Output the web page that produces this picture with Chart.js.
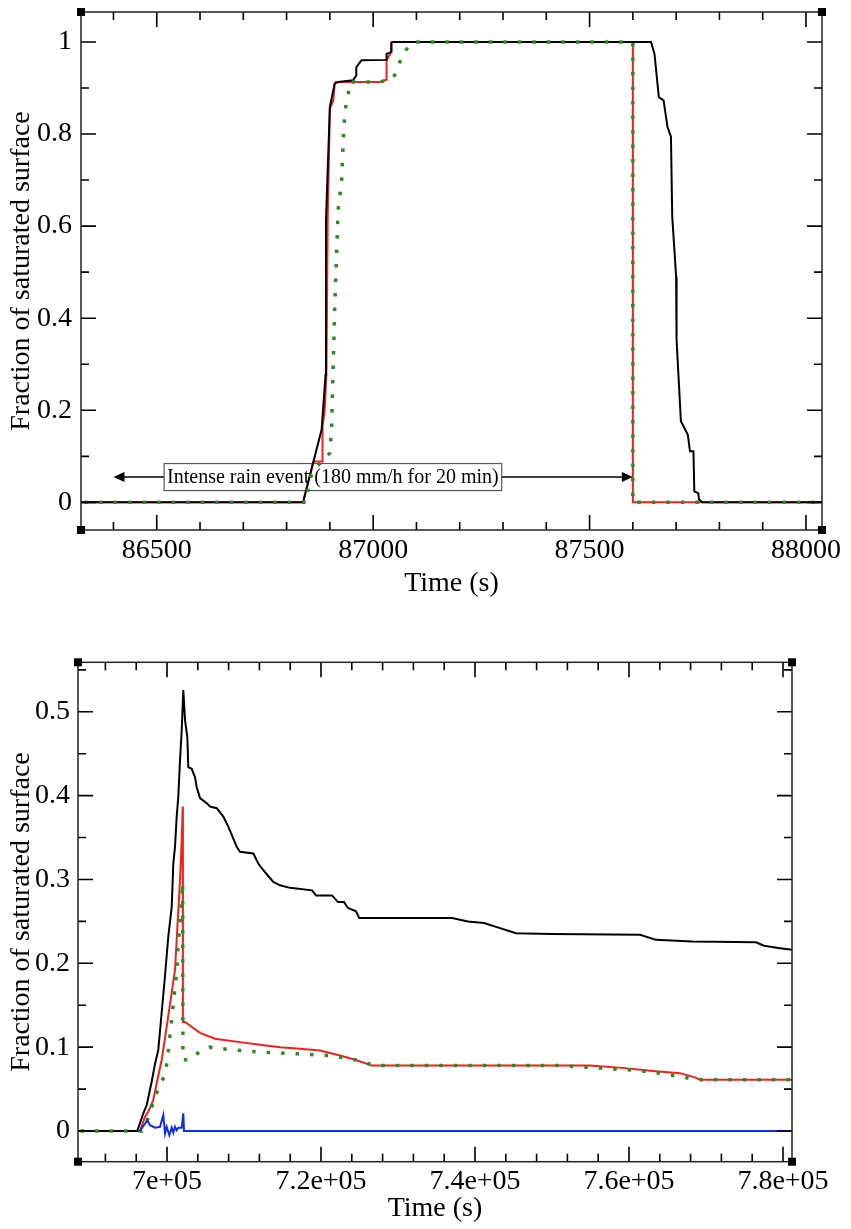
<!DOCTYPE html>
<html><head><meta charset="utf-8">
<script src="https://cdn.jsdelivr.net/npm/chart.js@4.4.1/dist/chart.umd.min.js"></script>
<style>
html,body{margin:0;padding:0;background:#fff;width:851px;height:1229px;overflow:hidden;position:relative}
canvas{position:absolute;left:0}
#c1{top:0}
#c2{top:620px}
</style></head>
<body>
<canvas id="c1" width="851" height="600" style="width:851px;height:600px"></canvas>
<canvas id="c2" width="851" height="605" style="width:851px;height:605px"></canvas>
<script>
// ---------- Top chart data (time in s, fraction of saturated surface) ----------
const topBlackT = [86300, 86838, 86861, 86881, 86890, 86891, 86900, 86911, 86919, 86954, 86961, 86961, 86973, 87031, 87031, 87042, 87042, 87045, 87642, 87650, 87660, 87671, 87680, 87688, 87691, 87700, 87701, 87711, 87727, 87732, 87740, 87742, 87751, 87753, 87761, 88100];
const topBlackV = [0, 0, 0.085, 0.158, 0.277, 0.613, 0.859, 0.909, 0.913, 0.917, 0.927, 0.945, 0.96, 0.961, 0.974, 0.978, 0.998, 1, 1, 0.974, 0.88, 0.873, 0.815, 0.794, 0.62, 0.49, 0.353, 0.176, 0.147, 0.111, 0.111, 0.024, 0.02, 0.006, 0, 0];

const topRedT = [86300, 86838, 86861, 86865, 86883, 86883, 86888, 86892, 86895, 86900, 86908, 86911, 86913, 87015, 87030, 87031, 87042, 87042, 87045, 87600, 87600, 88100];
const topRedV = [0, 0, 0.085, 0.089, 0.089, 0.165, 0.2, 0.277, 0.62, 0.855, 0.873, 0.909, 0.913, 0.913, 0.918, 0.961, 0.978, 0.998, 1, 1, 0, 0];

const topGreenT = [86300, 86845, 86852, 86862, 86900, 86904, 86911, 86919, 86927, 86931, 86935, 86942, 86946, 87015, 87046, 87057, 87069, 87087, 87095, 87600, 87600, 88100];
const topGreenV = [0, 0, 0.046, 0.07, 0.107, 0.165, 0.418, 0.635, 0.696, 0.79, 0.851, 0.884, 0.913, 0.913, 0.92, 0.945, 0.974, 0.996, 1, 1, 0, 0];

// rain-event annotation (s)
const rainStart = 86400;
const rainEnd = 87600;
const rainArrowLevel = 0.055;
const rainLabelCenter = 86907;
const rainLabel = 'Intense rain event (180 mm/h for 20 min)';

// ---------- Bottom chart data ----------
const botBlackT = [685000, 696143, 696922, 697364, 698013, 698442, 698870, 699740, 700169, 700610, 700818, 701039, 701260, 701468, 701688, 701909, 702117, 702338, 702636, 702766, 703208, 703636, 703857, 704286, 705156, 705584, 706455, 707312, 707961, 709052, 709481, 711208, 711857, 712506, 713805, 714675, 715974, 718831, 719351, 721429, 722208, 722987, 723506, 724545, 724961, 737013, 739091, 741169, 743247, 745325, 750000, 761429, 763506, 768182, 776494, 777532, 779610, 782000];
const botBlackV = [0, 0, 0.021, 0.031, 0.059, 0.08, 0.097, 0.185, 0.232, 0.267, 0.319, 0.339, 0.375, 0.399, 0.442, 0.478, 0.526, 0.49, 0.47, 0.434, 0.432, 0.422, 0.41, 0.397, 0.391, 0.387, 0.385, 0.375, 0.363, 0.339, 0.333, 0.331, 0.319, 0.311, 0.297, 0.293, 0.29, 0.287, 0.281, 0.281, 0.273, 0.273, 0.266, 0.262, 0.254, 0.254, 0.25, 0.248, 0.242, 0.236, 0.235, 0.234, 0.228, 0.226, 0.225, 0.221, 0.218, 0.215];

const botRedT = [685000, 696494, 697143, 697571, 698221, 698662, 699312, 699519, 701039, 701688, 701909, 702039, 702065, 702338, 704286, 706234, 709481, 712078, 714675, 717273, 719870, 721169, 722468, 724416, 726623, 754935, 759481, 762727, 766623, 768571, 769221, 782000];
const botRedV = [0, 0, 0.017, 0.023, 0.037, 0.057, 0.085, 0.097, 0.192, 0.299, 0.347, 0.387, 0.13, 0.13, 0.117, 0.11, 0.106, 0.103, 0.1, 0.098, 0.096, 0.093, 0.09, 0.085, 0.078, 0.078, 0.075, 0.072, 0.069, 0.064, 0.061, 0.061];

const botGreenT = [685000, 696753, 697532, 698442, 699091, 699740, 699961, 700169, 701260, 701468, 701688, 701909, 702039, 702065, 702987, 704286, 705584, 708182, 712078, 717273, 721169, 724416, 727013, 751039, 756234, 761429, 764675, 767273, 768571, 782000];
const botGreenV = [0, 0, 0.015, 0.041, 0.055, 0.067, 0.08, 0.095, 0.19, 0.225, 0.248, 0.279, 0.296, 0.085, 0.085, 0.095, 0.1, 0.097, 0.094, 0.092, 0.09, 0.085, 0.078, 0.078, 0.075, 0.072, 0.068, 0.064, 0.061, 0.061];

const botBlueT = [696494, 697442, 697792, 698442, 699091, 699519, 699740, 699961, 700299, 700610, 700818, 701039, 701260, 701468, 701909, 702117, 702208, 782000];
const botBlueV = [0, 0.013, 0.007, 0.004, 0.005, 0.019, -0.003, 0.005, -0.005, 0.004, -0.002, 0.005, 0.001, 0.004, 0.004, 0.021, 0, 0];

// axis ranges / tick steps
const topXRange = [86325, 88037], topXMinor = 100, topXMajor = 500;
const topYRange = [-0.06, 1.065], topYMinor = 0.1, topYMajor = 0.2;
const botXRange = [688440, 781170], botXMinor = 4000, botXMajor = 20000;
const botYRange = [-0.0366, 0.559], botYMinor = 0.05, botYMajor = 0.1;

const FONT = "'Liberation Serif','Times New Roman',serif";
const zip = (t, v) => t.map((x, i) => ({x, y: v[i]}));
const isMaj = (v, s) => Math.abs(v / s - Math.round(v / s)) < 1e-6;
const fmtNum = v => String(Math.round(v * 1000) / 1000);
const fmtSci = v => {
  const e = Math.floor(Math.log10(Math.abs(v)));
  const m = +(v / Math.pow(10, e)).toFixed(4);
  return m + 'e+' + String(e).padStart(2, '0');
};

const GREEN = '#2a8c22', RED = '#f0201c', BLUE = '#1030e0';

function lineDs(data, color, width, order, dashed) {
  return {
    data, borderColor: color, backgroundColor: color, borderWidth: width,
    pointRadius: 0, tension: 0, fill: false, order,
    borderDash: dashed ? [3.5, 11] : [], borderCapStyle: 'butt', borderJoinStyle: 'miter'
  };
}

const framePlugin = {
  id: 'frame',
  afterDraw(chart, args, o) {
    const {ctx, chartArea: a, scales: {x, y}} = chart;
    ctx.save();
    ctx.strokeStyle = '#000';
    ctx.lineWidth = 1.6;
    ctx.beginPath();
    x.ticks.forEach(t => {
      const p = x.getPixelForValue(t.value);
      const L = isMaj(t.value, o.xMajor) ? 15 : 8;
      ctx.moveTo(p, a.bottom); ctx.lineTo(p, a.bottom - L);
      ctx.moveTo(p, a.top); ctx.lineTo(p, a.top + L);
    });
    y.ticks.forEach(t => {
      const p = y.getPixelForValue(t.value);
      const L = isMaj(t.value, o.yMajor) ? 15 : 8;
      ctx.moveTo(a.left, p); ctx.lineTo(a.left + L, p);
      ctx.moveTo(a.right, p); ctx.lineTo(a.right - L, p);
    });
    ctx.stroke();
    ctx.lineWidth = 1.5;
    ctx.strokeStyle = '#222';
    ctx.strokeRect(a.left, a.top, a.right - a.left, a.bottom - a.top);
    ctx.fillStyle = '#000';
    [[a.left, a.top], [a.right, a.top], [a.left, a.bottom], [a.right, a.bottom]].forEach(([cx, cy]) => {
      ctx.fillRect(cx - 4, cy - 4, 8, 8);
    });
    ctx.restore();
  }
};

const rainPlugin = {
  id: 'rainNote',
  beforeDatasetsDraw(chart) {
    const {ctx, scales: {x, y}} = chart;
    const yy = y.getPixelForValue(rainArrowLevel);
    const x0 = x.getPixelForValue(rainStart), x1 = x.getPixelForValue(rainEnd);
    const cx = x.getPixelForValue(rainLabelCenter);
    ctx.save();
    ctx.font = '20px ' + FONT;
    const w = ctx.measureText(rainLabel).width + 6, h = 27;
    const bl = cx - w / 2, br = cx + w / 2;
    ctx.strokeStyle = '#000'; ctx.fillStyle = '#000'; ctx.lineWidth = 1.6;
    ctx.beginPath();
    ctx.moveTo(x0 + 9, yy); ctx.lineTo(bl, yy);
    ctx.moveTo(br, yy); ctx.lineTo(x1 - 9, yy);
    ctx.stroke();
    ctx.beginPath();
    ctx.moveTo(x0, yy); ctx.lineTo(x0 + 11, yy - 5); ctx.lineTo(x0 + 11, yy + 5); ctx.closePath();
    ctx.moveTo(x1, yy); ctx.lineTo(x1 - 11, yy - 5); ctx.lineTo(x1 - 11, yy + 5); ctx.closePath();
    ctx.fill();
    ctx.strokeStyle = '#555'; ctx.lineWidth = 1.2;
    ctx.strokeRect(bl, yy - h / 2, w, h);
    ctx.textAlign = 'center'; ctx.textBaseline = 'middle';
    ctx.fillText(rainLabel, cx, yy + 1);
    ctx.restore();
  }
};

function axisCfg(range, minor, major, fmt, isX, size, pad) {
  return {
    type: 'linear', min: range[0], max: range[1],
    afterBuildTicks: s => {
      const ticks = [];
      const k0 = Math.ceil(s.min / minor - 1e-9), k1 = Math.floor(s.max / minor + 1e-9);
      for (let k = k0; k <= k1; k++) ticks.push({value: Math.round(k * minor * 1e6) / 1e6});
      s.ticks = ticks;
    },
    afterFit: s => {
      if (isX) s.height = size; else s.width = size;
      s.paddingLeft = 0; s.paddingRight = 0; s.paddingTop = 0; s.paddingBottom = 0;
    },
    grid: {display: false, drawTicks: false},
    border: {display: false},
    ticks: {
      autoSkip: false, maxRotation: 0, minRotation: 0,
      padding: pad, color: '#000', font: {family: FONT, size: 28},
      callback: v => isMaj(v, major) ? fmt(v) : ''
    },
    title: {
      display: true, color: '#000', font: {family: FONT, size: 28},
      text: isX ? 'Time (s)' : 'Fraction of saturated surface',
      padding: isX ? {top: 0, bottom: 0} : {top: 5, bottom: 0}
    }
  };
}

Chart.defaults.font.family = FONT;

new Chart(document.getElementById('c1'), {
  type: 'line',
  data: {datasets: [
    lineDs(zip(topRedT, topRedV), RED, 2, 2, false),
    lineDs(zip(topBlackT, topBlackV), '#000', 2, 1, false),
    lineDs(zip(topGreenT, topGreenV), GREEN, 3.5, 0, true)
  ]},
  options: {
    responsive: false, animation: false,
    layout: {padding: {top: 12, right: 29, left: 0, bottom: 0}},
    plugins: {legend: {display: false}, tooltip: {enabled: false},
      frame: {xMajor: topXMajor, yMajor: topYMajor}},
    scales: {
      x: axisCfg(topXRange, topXMinor, topXMajor, v => String(v), true, 70, 4),
      y: axisCfg(topYRange, topYMinor, topYMajor, fmtNum, false, 81, 9)
    }
  },
  plugins: [framePlugin, rainPlugin]
});

new Chart(document.getElementById('c2'), {
  type: 'line',
  data: {datasets: [
    lineDs(zip(botRedT, botRedV), RED, 2, 3, false),
    lineDs(zip(botBlackT, botBlackV), '#000', 2, 2, false),
    lineDs(zip(botGreenT, botGreenV), GREEN, 3.5, 1, true),
    lineDs(zip(botBlueT, botBlueV), BLUE, 2, 0, false)
  ]},
  options: {
    responsive: false, animation: false,
    layout: {padding: {top: 42.3, right: 59, left: 0, bottom: 0}},
    plugins: {legend: {display: false}, tooltip: {enabled: false},
      frame: {xMajor: botXMajor, yMajor: botYMajor}},
    scales: {
      x: axisCfg(botXRange, botXMinor, botXMajor, fmtSci, true, 63.3, 3),
      y: axisCfg(botYRange, botYMinor, botYMajor, fmtNum, false, 78, 8)
    }
  },
  plugins: [framePlugin]
});
</script>
</body></html>
